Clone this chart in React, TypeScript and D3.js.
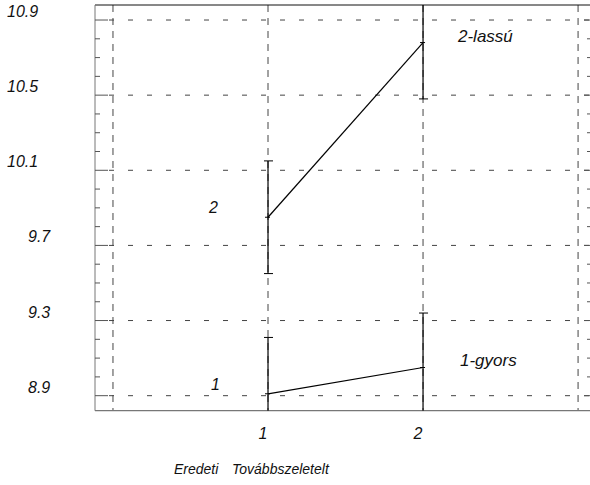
import * as d3 from 'd3'

const categories = [1, 2]
const gyorsMeans = [8.91, 9.05]
const gyorsErr = [0.3, 0.29]
const lassuMeans = [9.85, 10.78]
const lassuErr = [0.3, 0.3]
const yTickLabels = ['8.9', '9.3', '9.7', '10.1', '10.5', '10.9']
const xTickLabels = ['1', '2']
const xGrid = [0, 1, 2, 3]
const minorTicks = d3.range(89, 110).map(d => d / 10)

const W = 590
const H = 485
const FONT = 'Liberation Sans, Arial, sans-serif'

export default function App() {
  const x = d3.scaleLinear().domain([-0.116, 3.077]).range([95, 590])
  const y = d3.scaleLinear().domain([8.82, 10.98]).range([410.7, 5])
  const line = d3.line<number>().x((_, i) => x(categories[i])).y(d => y(d))

  const series = [
    { means: gyorsMeans, err: gyorsErr },
    { means: lassuMeans, err: lassuErr },
  ]

  return (
    <svg width={W} height={H} style={{ position: 'absolute', left: 0, top: 0, background: '#fff' }}>
      <defs>
        <clipPath id="plot">
          <rect x={95} y={5} width={495} height={405.7} />
        </clipPath>
      </defs>

      {/* grid */}
      {yTickLabels.map(t => (
        <line key={'h' + t} x1={95} x2={590} y1={y(+t)} y2={y(+t)}
          stroke="#444" strokeDasharray="5,14" strokeDashoffset={-14} />
      ))}
      {xGrid.map(v => (
        <line key={'v' + v} x1={x(v)} x2={x(v)} y1={5} y2={410.7}
          stroke="#444" strokeDasharray="7,6" />
      ))}

      {/* axes */}
      <line x1={95} x2={590} y1={5} y2={5} stroke="#111" />
      <line x1={95} x2={95} y1={5} y2={410.7} stroke="#777" />
      <line x1={95} x2={590} y1={410.7} y2={410.7} stroke="#777" strokeWidth={1.2} />
      {minorTicks.map(t => {
        const major = yTickLabels.includes(t.toFixed(1))
        return (
          <g key={'m' + t}>
            <line x1={95} x2={major ? 108 : 100} y1={y(t)} y2={y(t)} stroke="#555" />
            <line x1={major ? 584 : 587} x2={590} y1={y(t)} y2={y(t)} stroke="#555" />
          </g>
        )
      })}

      {yTickLabels.map(t => (
        <text key={'yl' + t} x={t.length > 3 ? 7 : 28} y={y(+t) - 3}
          fontFamily={FONT} fontStyle="italic" fontSize={16} fill="#111">{t}</text>
      ))}
      {xTickLabels.map((t, i) => (
        <text key={'xl' + t} x={x(categories[i]) - 5} y={439} textAnchor="middle"
          fontFamily={FONT} fontStyle="italic" fontSize={16} fill="#111">{t}</text>
      ))}

      {/* series */}
      <g clipPath="url(#plot)">
        {series.map((s, si) => (
          <g key={'s' + si}>
            <path d={line(s.means) ?? ''} fill="none" stroke="#000" strokeWidth={1.2} />
            {s.means.map((m, i) => {
              const cx = x(categories[i])
              const lo = y(m - s.err[i])
              const hi = y(m + s.err[i])
              return (
                <g key={i}>
                  <line x1={cx} x2={cx} y1={hi} y2={lo} stroke="#000" strokeWidth={1.2} />
                  <line x1={cx - 4} x2={cx + 5} y1={hi} y2={hi} stroke="#000" />
                  <line x1={cx - 4} x2={cx + 5} y1={lo} y2={lo} stroke="#000" />
                  <line x1={cx - 3} x2={cx + 2} y1={y(m)} y2={y(m)} stroke="#000" />
                </g>
              )
            })}
          </g>
        ))}
      </g>

      {/* labels */}
      <text x={209} y={213} fontFamily={FONT} fontStyle="italic" fontSize={16} fill="#111">2</text>
      <text x={211} y={390} fontFamily={FONT} fontStyle="italic" fontSize={16} fill="#111">1</text>
      <text x={458} y={42} fontFamily={FONT} fontStyle="italic" fontSize={17} fill="#111">2-lassú</text>
      <text x={460} y={366} fontFamily={FONT} fontStyle="italic" fontSize={17} fill="#111">1-gyors</text>
      <text x={174} y={474} fontFamily={FONT} fontStyle="italic" fontSize={14} fill="#111">Eredeti</text>
      <text x={232} y={474} fontFamily={FONT} fontStyle="italic" fontSize={14} fill="#111">Továbbszeletelt</text>
    </svg>
  )
}
